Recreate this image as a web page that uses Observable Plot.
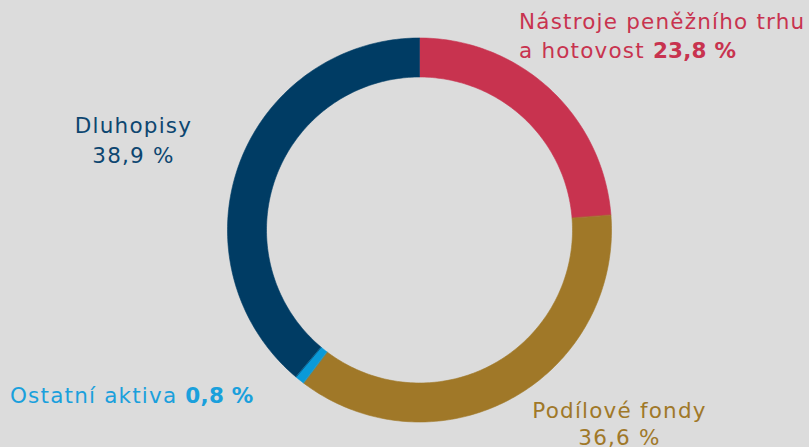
<!DOCTYPE html>
<html>
<head>
<meta charset="utf-8">
<script src="https://cdn.jsdelivr.net/npm/d3@7"></script>
<script src="https://cdn.jsdelivr.net/npm/@observablehq/plot@0.6"></script>
<style>
  html, body { margin: 0; padding: 0; background: #dcdcdc; }
  #chart { position: relative; width: 809px; height: 447px; overflow: hidden; }
  svg { font-family: "DejaVu Sans", sans-serif; }
</style>
</head>
<body>
<div id="chart"></div>
<script>
const categories = ["Nástroje peněžního trhu a hotovost", "Podílové fondy", "Ostatní aktiva", "Dluhopisy"];
const values = [23.8, 36.6, 0.8, 38.9];
const valueLabels = ["23,8 %", "36,6 %", "0,8 %", "38,9 %"];
const colors = ["#c8334f", "#a07828", "#0a9ad8", "#003c64"];

const innerRatio = 153 / 192;
const total = d3.sum(values);

// build ring polygons from cumulative shares
const rows = [];
let cum = 0;
categories.forEach((cat, i) => {
  const a0 = (cum / total) * 2 * Math.PI;
  cum += values[i];
  const a1 = (cum / total) * 2 * Math.PI;
  const n = Math.max(4, Math.ceil((a1 - a0) / (2 * Math.PI) * 360));
  const pts = [];
  for (let k = 0; k <= n; k++) {
    const a = a0 + (a1 - a0) * k / n;
    pts.push({cat, x: Math.sin(a), y: Math.cos(a)});
  }
  for (let k = n; k >= 0; k--) {
    const a = a0 + (a1 - a0) * k / n;
    pts.push({cat, x: innerRatio * Math.sin(a), y: innerRatio * Math.cos(a)});
  }
  rows.push(...pts);
});

const plot = Plot.plot({
  width: 809,
  height: 447,
  margin: 0,
  style: {background: "transparent"},
  x: {domain: [-419 / 192, 390 / 192], axis: null},
  y: {domain: [-217.5 / 192, 229.5 / 192], axis: null},
  color: {domain: categories, range: colors},
  marks: [
    Plot.line(rows, {x: "x", y: "y", z: "cat", fill: "cat", stroke: "cat", strokeWidth: 0.6, curve: "linear-closed"})
  ]
});

document.getElementById("chart").appendChild(plot);

// labels
const svg = d3.select(plot);
function label(lines, x, anchor, color, size) {
  const t = svg.append("text")
    .attr("text-anchor", anchor)
    .attr("fill", color)
    .style("font-size", size + "px");
  lines.forEach(([parts, y]) => {
    const line = t.append("tspan").attr("x", x).attr("y", y);
    parts.forEach(([s, bold]) => {
      line.append("tspan")
        .attr("font-weight", bold ? 700 : 400)
        .style("letter-spacing", bold ? "0.2px" : "1.2px")
        .text(s);
    });
  });
}
label([[[["Nástroje peněžního trhu", false]], 29], [[["a hotovost ", false], [valueLabels[0], true]], 58]], 519, "start", colors[0], 21.5);
label([[[["Dluhopisy", false]], 133], [[[valueLabels[3], false]], 163]], 133.5, "middle", "#0d4670", 21.5);
label([[[["Ostatní aktiva ", false], [valueLabels[2], true]], 403]], 10, "start", "#1aa0dc", 21.5);
label([[[["Podílové fondy", false]], 418], [[[valueLabels[1], false]], 445]], 619.5, "middle", colors[1], 21.5);
</script>
</body>
</html>
